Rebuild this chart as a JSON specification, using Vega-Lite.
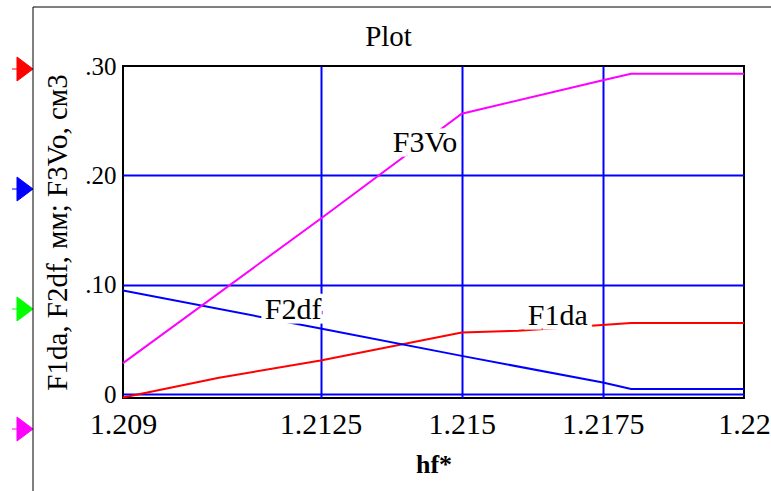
{
  "$schema": "https://vega.github.io/schema/vega-lite/v6.json",
  "width": 621,
  "height": 332,
  "autosize": {"type": "none"},
  "padding": {"left": 123, "top": 66, "right": 27, "bottom": 93},
  "background": "white",
  "title": {"text": "Plot", "font": "Liberation Serif", "fontSize": 29, "fontWeight": "normal", "color": "#000", "anchor": "middle", "dx": -45, "baseline": "alphabetic", "offset": -68.5},
  "config": {"view": {"stroke": "#000", "strokeWidth": 2}, "font": "Liberation Serif"},
  "datasets": {
    "lines": [
      {"series": "F1da", "hf": 1.209, "value": -0.003},
      {"series": "F1da", "hf": 1.2107, "value": 0.015},
      {"series": "F1da", "hf": 1.2125, "value": 0.0307},
      {"series": "F1da", "hf": 1.215, "value": 0.0564},
      {"series": "F1da", "hf": 1.216, "value": 0.058},
      {"series": "F1da", "hf": 1.218, "value": 0.065},
      {"series": "F1da", "hf": 1.22, "value": 0.065},
      {"series": "F2df", "hf": 1.209, "value": 0.0948},
      {"series": "F2df", "hf": 1.2125, "value": 0.06},
      {"series": "F2df", "hf": 1.215, "value": 0.035},
      {"series": "F2df", "hf": 1.2175, "value": 0.0106},
      {"series": "F2df", "hf": 1.218, "value": 0.0048},
      {"series": "F2df", "hf": 1.22, "value": 0.0048},
      {"series": "F3Vo", "hf": 1.209, "value": 0.0284},
      {"series": "F3Vo", "hf": 1.2125, "value": 0.1604},
      {"series": "F3Vo", "hf": 1.215, "value": 0.2564},
      {"series": "F3Vo", "hf": 1.2175, "value": 0.287},
      {"series": "F3Vo", "hf": 1.218, "value": 0.293},
      {"series": "F3Vo", "hf": 1.22, "value": 0.293}
    ],
    "labels": [
      {"label": "F3Vo", "hf": 1.21378, "value": 0.2217},
      {"label": "F2df", "hf": 1.21151, "value": 0.0686},
      {"label": "F1da", "hf": 1.21617, "value": 0.0634}
    ]
  },
  "layer": [
    {
      "data": {"name": "lines"},
      "mark": {"type": "line", "strokeWidth": 2},
      "encoding": {
        "x": {
          "field": "hf", "type": "quantitative",
          "scale": {"domain": [1.209, 1.22], "nice": false, "zero": false},
          "axis": {
            "values": [1.209, 1.2125, 1.215, 1.2175, 1.22],
            "format": ".4~f",
            "title": "hf*",
            "titleFont": "Liberation Serif", "titleFontSize": 26, "titleFontWeight": "bold", "titleColor": "#000", "titlePadding": 12,
            "labelFont": "Liberation Serif", "labelFontSize": 30, "labelColor": "#000", "labelPadding": 11,
            "labelFlush": false, "labelOverlap": false,
            "ticks": false, "domain": false,
            "grid": true, "gridColor": "#0000ff", "gridWidth": 2,
            "gridOpacity": {"condition": {"test": "datum.value <= 1.20901 || datum.value >= 1.21999", "value": 0}, "value": 1}
          }
        },
        "y": {
          "field": "value", "type": "quantitative",
          "scale": {"domain": [-0.0035, 0.3], "nice": false, "zero": false},
          "axis": {
            "values": [0, 0.1, 0.2, 0.3],
            "labelExpr": "datum.value == 0 ? '0' : replace(format(datum.value, '.2f'), '0.', '.')",
            "title": "F1da, F2df, мм; F3Vo, см3",
            "titleFont": "Liberation Serif", "titleFontSize": 29, "titleFontWeight": "normal", "titleColor": "#000", "titlePadding": 12,
            "labelFont": "Liberation Serif", "labelFontSize": 25, "labelColor": "#000", "labelPadding": 7,
            "labelFlush": false, "labelOverlap": false,
            "ticks": false, "domain": false,
            "grid": true, "gridColor": "#0000ff", "gridWidth": 2,
            "gridOpacity": {"condition": {"test": "datum.value >= 0.29", "value": 0}, "value": 1}
          }
        },
        "color": {
          "field": "series", "type": "nominal",
          "scale": {"domain": ["F1da", "F2df", "trace 3", "F3Vo"], "range": ["#ff0000", "#0000ff", "#00ff00", "#ff00ff"]},
          "legend": {
            "orient": "none", "legendX": -114.5, "legendY": -9.5, "title": null, "direction": "vertical",
            "padding": 0, "rowPadding": 91,
            "symbolType": "M-0.75,0H-0.333M-0.333,-1L1,0L-0.333,1Z",
            "symbolSize": 576, "symbolStrokeWidth": 1, "symbolStrokeColor": "#000",
            "labelExpr": "''", "labelFontSize": 1,
            "encode": {"symbols": {"update": {"fill": {"scale": "color", "field": "value"}, "stroke": {"value": "#000"}, "strokeWidth": {"value": 1}, "opacity": {"value": 1}}}}
          }
        }
      }
    },
    {
      "data": {"name": "labels"},
      "mark": {"type": "text", "align": "left", "baseline": "alphabetic", "font": "Liberation Serif", "fontSize": 30, "fill": "white", "stroke": "white", "strokeWidth": 9},
      "encoding": {
        "x": {"field": "hf", "type": "quantitative"},
        "y": {"field": "value", "type": "quantitative"},
        "text": {"field": "label"}
      }
    },
    {
      "data": {"name": "labels"},
      "mark": {"type": "text", "align": "left", "baseline": "alphabetic", "font": "Liberation Serif", "fontSize": 30, "color": "#000"},
      "encoding": {
        "x": {"field": "hf", "type": "quantitative"},
        "y": {"field": "value", "type": "quantitative"},
        "text": {"field": "label"},
        "opacity": {
          "field": "label", "type": "nominal",
          "scale": {"range": [1, 1, 1]},
          "legend": {
            "orient": "none", "legendX": -90.5, "legendY": -59.5, "title": null,
            "padding": 380, "strokeColor": "#000",
            "symbolSize": 0, "symbolStrokeWidth": 0,
            "labelExpr": "''", "labelFontSize": 1,
            "encode": {"symbols": {"update": {"opacity": {"value": 0}}}}
          }
        }
      }
    }
  ]
}
